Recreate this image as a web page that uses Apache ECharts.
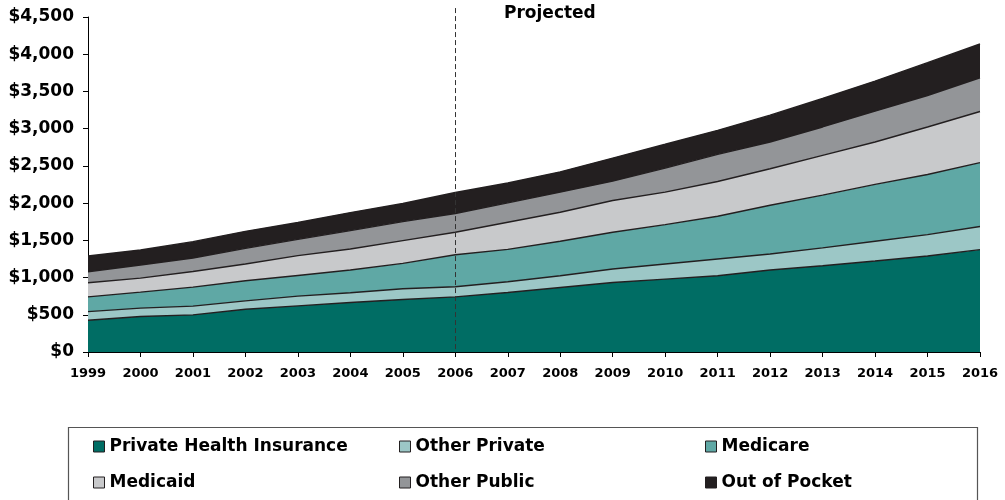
<!DOCTYPE html>
<html>
<head>
<meta charset="utf-8">
<script src="https://cdn.jsdelivr.net/npm/echarts@6/dist/echarts.min.js"></script>
<style>html,body{margin:0;padding:0;background:#fff}#c{width:1005px;height:500px}</style>
</head>
<body>
<div id="c"></div>
<script>
const years = ['1999','2000','2001','2002','2003','2004','2005','2006','2007','2008','2009','2010','2011','2012','2013','2014','2015','2016'];
const privateHealthInsurance = [427,476,499,575,620,665,705,741,799,867,934,979,1024,1101,1159,1222,1290,1375];
const otherPrivate = [116,113,117,112,130,130,144,135,144,157,180,203,225,216,239,265,287,310];
const medicare = [198,216,256,270,278,306,341,431,436,463,494,529,574,655,709,764,808,858];
const medicaid = [189,188,210,225,266,283,306,301,364,390,427,436,468,490,535,570,638,687];
const otherPublic = [148,175,181,210,219,247,256,252,261,270,260,323,364,359,381,414,423,454];
const outOfPocket = [212,203,219,229,226,242,243,283,266,273,310,320,323,360,382,404,440,453];
const seriesNames = ['Private Health Insurance','Other Private','Medicare','Medicaid','Other Public','Out of Pocket'];
const seriesColors = ['#006d64','#9cc7c6','#5fa8a5','#c8c9cb','#939598','#231f20'];
const seriesData = [privateHealthInsurance, otherPrivate, medicare, medicaid, otherPublic, outOfPocket];
const projectedYear = '2006';

const FONT = 'DejaVu Sans';
const chart = echarts.init(document.getElementById('c'), null, {renderer: 'canvas'});

const series = seriesNames.map((name, i) => ({
  name, type: 'line', stack: 'total', data: seriesData[i],
  symbol: 'none', smooth: false,
  lineStyle: {color: '#231f20', width: 1.4},
  itemStyle: {color: seriesColors[i], borderColor: '#231f20', borderWidth: 1},
  areaStyle: {color: seriesColors[i], opacity: 1},
  emphasis: {disabled: true}, silent: true, z: 2
}));

const legendCols = [93, 399, 705];
const legendRows = [438, 474];
const legends = seriesNames.map((name, i) => ({
  data: [{name, itemStyle: {color: seriesColors[i], borderColor: '#231f20', borderWidth: 1}}],
  left: legendCols[i % 3], top: legendRows[Math.floor(i / 3)],
  orient: 'horizontal', icon: 'rect', itemWidth: 11, itemHeight: 11, itemGap: 5,
  selectedMode: false, padding: 0,
  textStyle: {fontFamily: FONT, fontWeight: 'bold', fontSize: 17, color: '#000'}
}));

chart.setOption({
  animation: false,
  title: {text: 'Projected', left: 504, top: 5, padding: 0,
    textStyle: {fontFamily: FONT, fontWeight: 'bold', fontSize: 17, color: '#000'}},
  grid: {left: 88, right: 25, top: 17, bottom: 148, containLabel: false},
  legend: legends,
  xAxis: {
    type: 'category', data: years, boundaryGap: false,
    axisLine: {lineStyle: {color: '#000', width: 1}},
    axisTick: {show: true, alignWithLabel: true, length: 5, lineStyle: {color: '#000'}},
    axisLabel: {fontFamily: FONT, fontWeight: 'bold', fontSize: 13, color: '#000', margin: 15, interval: 0},
    splitLine: {show: false}
  },
  yAxis: {
    type: 'value', min: 0, max: 4500, interval: 500,
    axisLine: {show: true, lineStyle: {color: '#000', width: 1}},
    axisTick: {show: true, length: 5, lineStyle: {color: '#000'}},
    axisLabel: {fontFamily: FONT, fontWeight: 'bold', fontSize: 17, color: '#000', margin: 14,
      formatter: v => '$' + v.toLocaleString('en-US')},
    splitLine: {show: false}
  },
  series
});

const px = chart.convertToPixel({xAxisIndex: 0}, projectedYear);
const pyBottom = chart.convertToPixel({yAxisIndex: 0}, 0);
const pyTop = chart.convertToPixel({yAxisIndex: 0}, 4620);
chart.setOption({
  graphic: [
    {type: 'line', silent: true, z: 100,
      shape: {x1: Math.round(px) + 0.5, y1: pyTop, x2: Math.round(px) + 0.5, y2: pyBottom},
      style: {stroke: '#333', lineWidth: 1, lineDash: [5, 3]}},
    {type: 'rect', silent: true, shape: {x: 68.5, y: 427.5, width: 909, height: 90},
      style: {fill: 'none', stroke: '#555', lineWidth: 1.2}}
  ]
});
</script>
</body>
</html>
